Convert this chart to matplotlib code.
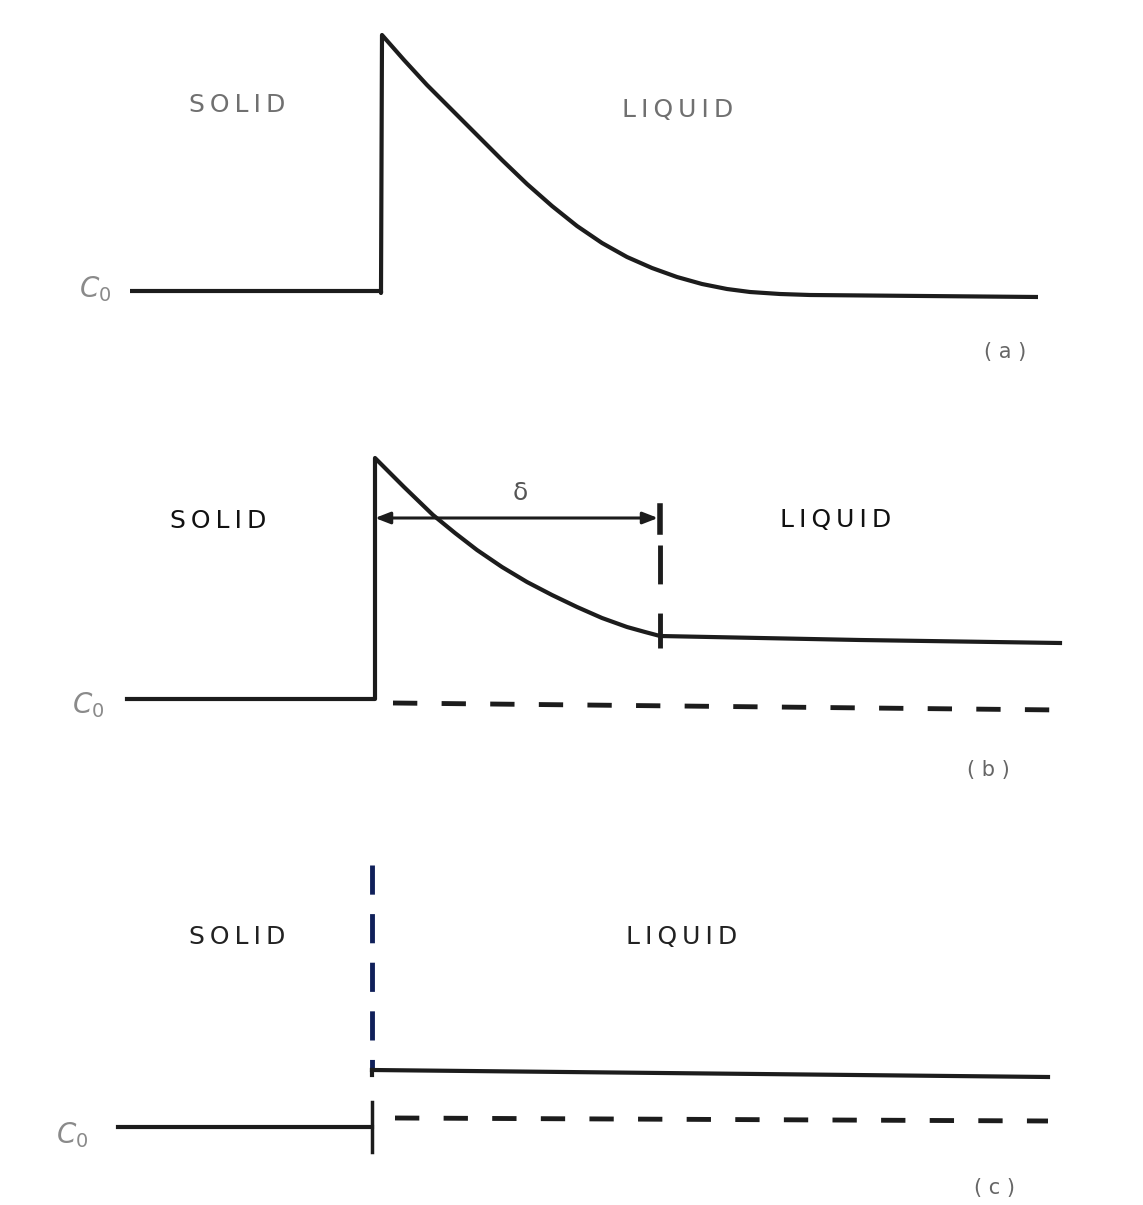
import matplotlib
matplotlib.use("Agg")
from matplotlib import pyplot as plt

# coordinates (x: distance, y: concentration, image units)

# (a) initial transient
a_x = [130, 381, 381, 382, 404, 427, 452, 477, 502, 527, 552, 577, 602, 627, 652, 677, 702, 727, 750, 780, 810, 1038]
a_y = [291, 291, 293, 35, 60, 85, 110, 135, 160, 184, 206, 226, 243, 257, 268, 277, 284, 289, 292, 294, 295, 297]

# (b) steady state with boundary layer delta
b_x = [127, 375, 375, 375, 404, 433, 455, 477, 502, 527, 552, 577, 602, 627, 645, 660, 860, 1060]
b_y = [699, 699, 699, 458, 487, 515, 533, 550, 567, 582, 595, 607, 618, 627, 632, 636, 640, 643]
b_c0_x = [393, 1060]
b_c0_y = [703, 710]
b_delta = [375, 660]
b_delta_y = 518

# (c) complete mixing
c_solid_x = [118, 372]
c_solid_y = [1127, 1127]
c_liquid_x = [372, 372, 1048]
c_liquid_y = [865, 1070, 1077]
c_low_x = [395, 1048]
c_low_y = [1118, 1121]

labels = {
    "a": dict(solid=(237, 105), liquid=(678, 110), c0=(95, 289), tag=(1005, 352), col="#707070"),
    "b": dict(solid=(218, 521), liquid=(836, 520), c0=(88, 705), tag=(988, 770), col="#111111"),
    "c": dict(solid=(237, 937), liquid=(682, 937), c0=(72, 1135), tag=(995, 1188), col="#222222"),
}

def spaced(s):
    return "\u2009".join(s)

fig = plt.figure(figsize=(11.43, 12.05), dpi=100)
ax = fig.add_axes([0, 0, 1, 1])
ax.set_xlim(0, 1143)
ax.set_ylim(1205, 0)
ax.axis("off")

lw = 3.0
ink = "#1c1c1c"

# panel a
ax.plot(a_x, a_y, color=ink, lw=lw, solid_joinstyle="round", solid_capstyle="butt")

# panel b
ax.plot(b_x, b_y, color=ink, lw=lw, solid_joinstyle="round")
ax.plot(b_c0_x, b_c0_y, color=ink, lw=3.5, linestyle=(0, (5, 5)))
ax.plot([b_delta[1], b_delta[1]], [545, 648], color=ink, lw=3.5, linestyle=(0, (8, 6)))
ax.annotate("", xy=(b_delta[0], b_delta_y), xytext=(b_delta[1] - 2, b_delta_y),
            arrowprops=dict(arrowstyle="<|-|>,head_length=0.9,head_width=0.35",
                            color=ink, lw=2.2, shrinkA=0, shrinkB=0))
ax.plot([b_delta[1], b_delta[1]], [506, 532], color=ink, lw=4)
ax.text(520, 493, "δ", fontsize=18, color="#555555", ha="center", va="center")

# panel c
ax.plot(c_solid_x, c_solid_y, color=ink, lw=lw)
ax.plot([c_liquid_x[0], c_liquid_x[1]], [c_liquid_y[0], c_liquid_y[1]],
        color="#10205a", lw=3.5, linestyle=(0, (6, 4)))
ax.plot(c_liquid_x[1:], c_liquid_y[1:], color=ink, lw=lw)
ax.plot([c_liquid_x[1], c_liquid_x[1]], [c_liquid_y[1], c_liquid_y[1] + 5], color=ink, lw=lw)
ax.plot([372, 372], [1102, 1152], color=ink, lw=2.5)
ax.plot(c_low_x, c_low_y, color=ink, lw=3.5, linestyle=(0, (5, 5)))

for key, d in labels.items():
    ax.text(*d["solid"], spaced("SOLID"), fontsize=18, color=d["col"], ha="center", va="center",
            fontfamily="DejaVu Sans")
    ax.text(*d["liquid"], spaced("LIQUID"), fontsize=18, color=d["col"], ha="center", va="center",
            fontfamily="DejaVu Sans")
    ax.text(*d["c0"], "$C_0$", fontsize=20, color="#8a8a8a", ha="center", va="center")
    ax.text(*d["tag"], "( %s )" % key, fontsize=15, color="#666666", ha="center", va="center")

fig.savefig("out.png", dpi=100, facecolor="white")
